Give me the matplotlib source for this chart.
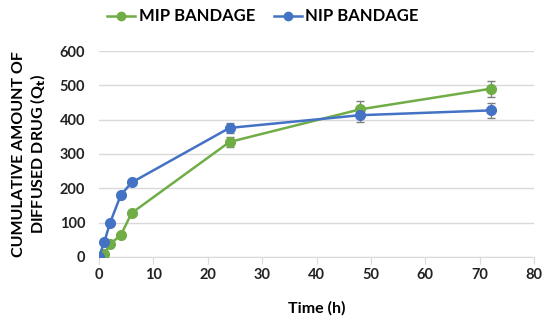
import matplotlib
matplotlib.use("Agg")
import matplotlib.pyplot as plt
from matplotlib.lines import Line2D

time_h = [0, 1, 2, 4, 6, 24, 48, 72]
mip = [0, 10, 38, 63, 128, 335, 430, 490]
mip_err = [2, 3, 4, 5, 6, 15, 23, 24]
nip = [0, 45, 98, 180, 217, 376, 413, 427]
nip_err = [2, 4, 5, 6, 7, 15, 20, 22]

plt.rcParams['font.family'] = ['Lato', 'DejaVu Sans']
plt.rcParams['font.weight'] = 'bold'

fig = plt.figure(figsize=(5.5, 3.28), dpi=100)
ax = fig.add_axes([0.18, 0.2165, 0.791, 0.628])

green = '#70AD47'
blue = '#4472C4'

ax.errorbar(time_h, mip, yerr=mip_err, color=green, marker='o', markersize=7,
            lw=1.8, ecolor='#7f7f7f', elinewidth=1, capsize=3, zorder=3)
ax.errorbar(time_h, nip, yerr=nip_err, color=blue, marker='o', markersize=7,
            lw=1.8, ecolor='#7f7f7f', elinewidth=1, capsize=3, zorder=3)

ax.set_xlim(0, 80)
ax.set_ylim(0, 600)
ax.set_xticks(range(0, 81, 10))
ax.set_yticks(range(0, 601, 100))
ax.grid(axis='y', color='#d9d9d9', lw=1)
ax.set_axisbelow(True)
for s in ['top', 'right', 'left']:
    ax.spines[s].set_visible(False)
ax.spines['bottom'].set_color('#d9d9d9')
ax.tick_params(axis='y', length=0, labelsize=10.5, pad=10)
ax.tick_params(axis='x', length=5, color='#d9d9d9', labelsize=10.5, pad=3)
for lab in ax.get_xticklabels() + ax.get_yticklabels():
    lab.set_fontweight('bold')
    lab.set_color('#222222')

ax.set_xlabel('Time (h)', fontsize=11.5, fontweight='bold', labelpad=14)
fig.text(0.055, 0.53, 'CUMULATIVE AMOUNT OF\nDIFFUSED DRUG (Q$_\\mathbf{t}$)', rotation=90,
         ha='center', va='center', fontsize=11.5, fontweight='bold', linespacing=1.2)

handles = [Line2D([], [], color=green, marker='o', markersize=6, lw=1.8),
           Line2D([], [], color=blue, marker='o', markersize=6, lw=1.8)]
fig.legend(handles, ['MIP BANDAGE', 'NIP BANDAGE'], loc='upper center',
           bbox_to_anchor=(0.478, 1.02), ncol=2, frameon=False,
           prop={'size': 12, 'weight': 'bold'}, handlelength=1.7,
           columnspacing=1.1, handletextpad=0.2)

fig.savefig('out.png', dpi=100)
